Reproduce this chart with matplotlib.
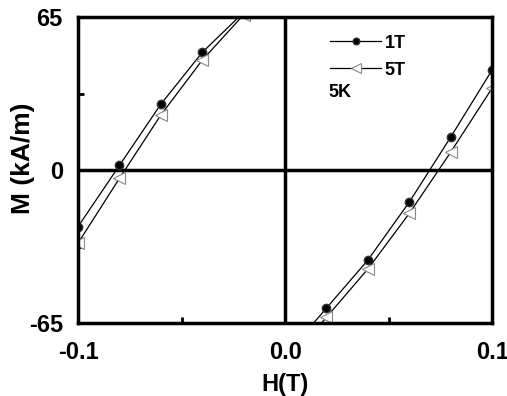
import numpy as np
import matplotlib.pyplot as plt

plt.rcParams['font.family'] = ['Liberation Sans', 'DejaVu Sans']
plt.rcParams['font.weight'] = 'bold'
plt.rcParams['axes.unicode_minus'] = False

# descending branch (upper left)
h_down = [-0.1, -0.08, -0.06, -0.04, -0.02]
m_down_1t = [-24, 2, 28, 50, 67]
m_down_5t = [-31, -3.5, 23.4, 46.7, 66]

# ascending branch (lower right)
h_up = [0.0, 0.02, 0.04, 0.06, 0.08, 0.1]
m_up_1t = [-79, -58.6, -38.2, -13.6, 14, 42.5]
m_up_5t = [-83, -62.5, -42, -18.4, 7.6, 34.8]

fig = plt.figure(figsize=(5.07, 3.96), dpi=100)
ax = fig.add_axes([0.154, 0.184, 0.8166, 0.773])

style_1t = dict(color='black', lw=0.9, marker='o', ms=6, mfc='black', mec='#333333')
style_5t = dict(color='black', lw=0.9, marker='<', ms=9, mfc='white', mec='#888888', mew=0.8)

ax.plot(h_down, m_down_1t, **style_1t)
ax.plot(h_down, m_down_5t, **style_5t)
ax.plot(h_up, m_up_1t, label='1T', **style_1t)
ax.plot(h_up, m_up_5t, label='5T', **style_5t)

ax.axhline(0, color='black', lw=2.5, zorder=1)
ax.axvline(0, color='black', lw=2.5, zorder=1)

ax.set_xlim(-0.1, 0.1)
ax.set_ylim(-65, 65)
ax.set_xticks([-0.1, 0.0, 0.1])
ax.set_xticklabels(['-0.1', '0.0', '0.1'])
ax.set_yticks([-65, 0, 65])
ax.set_xticks([-0.05, 0.05], minor=True)
ax.set_yticks([-32.5, 32.5], minor=True)
ax.tick_params(which='major', direction='in', length=0, labelsize=17)
ax.tick_params(axis='x', which='major', pad=13)
ax.tick_params(axis='y', which='major', pad=11)
ax.tick_params(which='minor', direction='in', length=4, width=2)
for s in ax.spines.values():
    s.set_linewidth(2.5)

ax.set_xlabel('H(T)', fontsize=17, fontweight='bold', labelpad=6)
ax.set_ylabel('M (kA/m)', fontsize=19, fontweight='bold')
ax.yaxis.set_label_coords(-0.105, 0.54)

leg = ax.legend(loc='upper left', bbox_to_anchor=(0.57, 0.995), frameon=False,
                fontsize=13, handlelength=2.8, handletextpad=0.2, labelspacing=0.55,
                markerscale=0.8)
ax.text(0.605, 0.74, '5K', transform=ax.transAxes, fontsize=13, fontweight='bold')

fig.savefig('out.png', dpi=100)
